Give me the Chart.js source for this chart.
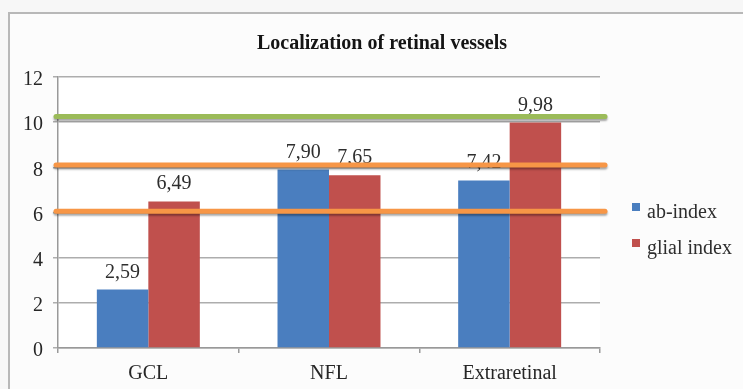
<!DOCTYPE html>
<html>
<head>
<meta charset="utf-8">
<script src="https://cdn.jsdelivr.net/npm/chart.js@4.4.1/dist/chart.umd.min.js"></script>
<style>
  html, body { margin: 0; padding: 0; background: #f7f7f7; }
  #wrap { width: 743px; height: 389px; }
</style>
</head>
<body>
<div id="wrap"><canvas id="c" width="743" height="389"></canvas></div>
<script>
// Categories and series
const categories = ['GCL', 'NFL', 'Extraretinal'];
const abIndex = [2.59, 7.90, 7.42];
const glialIndex = [6.49, 7.65, 9.98];
const seriesNames = ['ab-index', 'glial index'];
const seriesColors = ['#4a7ebf', '#c0504d'];

// Horizontal reference levels drawn across the plot
const referenceLevels = [10.25, 8.1, 6.05];
const referenceColors = ['#9bbb59', '#f79646', '#f79646'];

const yTicks = [0, 2, 4, 6, 8, 10, 12];

const chartTitle = 'Localization of retinal vessels';
const serif = "'Liberation Serif', 'Times New Roman', serif";

const fmt = v => v.toFixed(2).replace('.', ',');

// Frame, title and legend
const decorPlugin = {
  id: 'decor',
  beforeDraw(chart) {
    const ctx = chart.ctx;
    ctx.save();
    ctx.fillStyle = '#fcfcfc';
    ctx.fillRect(9, 13, 800, 500);
    ctx.strokeStyle = '#b8b8b8';
    ctx.lineWidth = 2;
    ctx.strokeRect(9, 13, 800, 500);
    ctx.fillStyle = '#ffffff';
    const a = chart.chartArea;
    ctx.fillRect(a.left, a.top, a.right - a.left, a.bottom - a.top);
    ctx.restore();
  },
  afterDraw(chart) {
    const ctx = chart.ctx;
    ctx.save();
    ctx.fillStyle = '#141414';
    ctx.font = 'bold 20px ' + serif;
    ctx.textAlign = 'center';
    ctx.textBaseline = 'alphabetic';
    ctx.fillText(chartTitle, 382, 49);

    ctx.font = '20px ' + serif;
    ctx.textAlign = 'left';
    chart.data.datasets.forEach((ds, i) => {
      const y = 203 + i * 36;
      ctx.fillStyle = ds.backgroundColor;
      ctx.fillRect(632, y, 8, 8);
      ctx.fillStyle = '#2e2e2e';
      ctx.fillText(ds.label, 647, y + 15);
    });
    ctx.restore();
  }
};

// Value labels above bars, then the reference levels over everything
const overlayPlugin = {
  id: 'overlay',
  afterDatasetsDraw(chart) {
    const ctx = chart.ctx;
    ctx.save();
    ctx.font = '20px ' + serif;
    ctx.fillStyle = '#2e2e2e';
    ctx.textAlign = 'center';
    ctx.textBaseline = 'alphabetic';
    chart.data.datasets.forEach((ds, i) => {
      const meta = chart.getDatasetMeta(i);
      meta.data.forEach((bar, j) => {
        ctx.fillText(fmt(ds.data[j]), bar.x, bar.y - 12);
      });
    });

    const ys = chart.scales.y;
    const a = chart.chartArea;
    ctx.lineCap = 'round';
    ctx.lineWidth = 5;
    ctx.shadowColor = 'rgba(0,0,0,0.35)';
    ctx.shadowOffsetY = 2;
    ctx.shadowBlur = 2;
    referenceLevels.forEach((v, k) => {
      const y = ys.getPixelForValue(v);
      ctx.strokeStyle = referenceColors[k];
      ctx.beginPath();
      ctx.moveTo(a.left - 2, y);
      ctx.lineTo(a.right + 5, y);
      ctx.stroke();
    });
    ctx.restore();
  }
};

new Chart(document.getElementById('c'), {
  type: 'bar',
  data: {
    labels: categories,
    datasets: [
      { label: seriesNames[0], data: abIndex, backgroundColor: seriesColors[0] },
      { label: seriesNames[1], data: glialIndex, backgroundColor: seriesColors[1] }
    ]
  },
  options: {
    responsive: false,
    animation: false,
    devicePixelRatio: 1,
    layout: { padding: { left: 0, right: 143, top: 77, bottom: 0 } },
    datasets: { bar: { categoryPercentage: 0.57, barPercentage: 1.0 } },
    plugins: {
      legend: { display: false },
      title: { display: false },
      tooltip: { enabled: false }
    },
    scales: {
      x: {
        afterFit(s) { s.height = 41; },
        grid: { drawOnChartArea: false, drawTicks: true, tickLength: 5, color: '#999999', lineWidth: 1.5 },
        border: { color: '#999999', width: 1.5 },
        ticks: { font: { family: serif, size: 20 }, color: '#262626', padding: 9 }
      },
      y: {
        min: 0,
        max: 12,
        afterFit(s) { s.width = 58; },
        afterBuildTicks(s) { s.ticks = yTicks.map(v => ({ value: v })); },
        grid: { color: '#adadad', lineWidth: 1.5, tickLength: 5 },
        border: { color: '#999999', width: 1.5 },
        ticks: {
          font: { family: serif, size: 20 },
          color: '#262626',
          padding: 10,
          labelOffset: 3,
          callback: v => String(v)
        }
      }
    }
  },
  plugins: [decorPlugin, overlayPlugin]
});
</script>
</body>
</html>
